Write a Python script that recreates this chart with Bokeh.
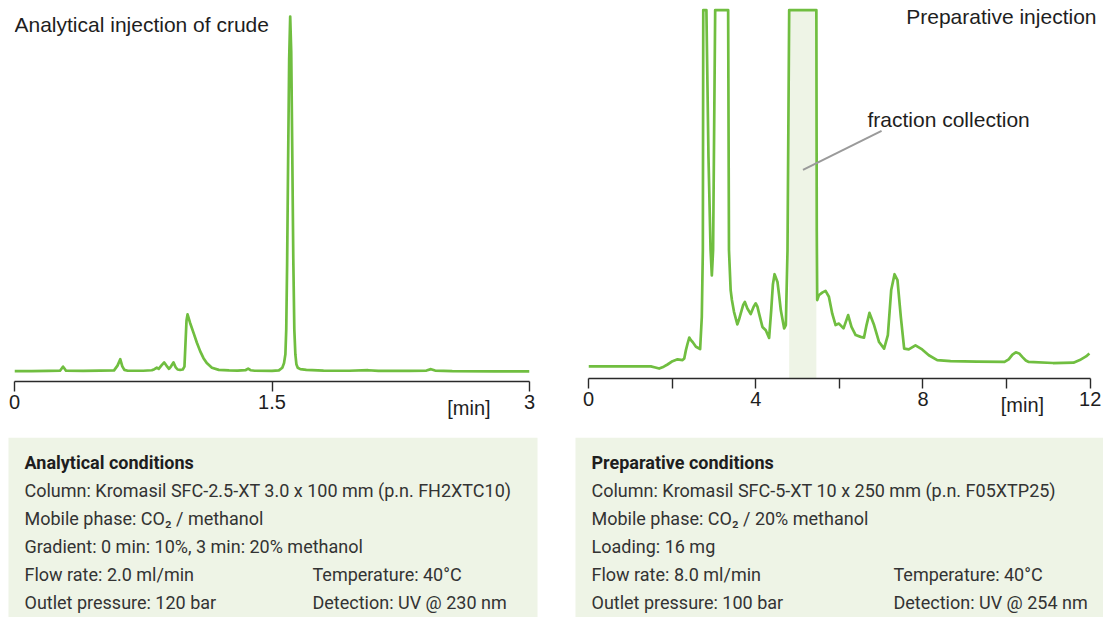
from bokeh.plotting import figure
from bokeh.layouts import row, column
from bokeh.models import Range1d, FixedTicker, Label, LinearAxis
from bokeh.core.properties import value
from bokeh.embed import file_html
from bokeh.resources import INLINE

# ---------------- data ----------------
L_TITLE = "Analytical injection of crude"
R_TITLE = "Preparative injection"
X_UNIT = "[min]"

L_TICKS = [0, 1.5, 3]
R_TICKS = [0, 2, 4, 6, 8, 10, 12]
R_TICK_LABELS = {0: "0", 2: "", 4: "4", 6: "", 8: "8", 10: "", 12: "12"}
L_UNIT_AT = 2.647
R_UNIT_AT = 10.38

L_TIME = [0.00, 0.10, 0.20, 0.265, 0.275, 0.283, 0.292, 0.30, 0.40, 0.50,
          0.58, 0.600, 0.616, 0.628, 0.64, 0.66, 0.75, 0.80, 0.815, 0.829,
          0.840, 0.855, 0.872, 0.885, 0.900, 0.912, 0.926, 0.938, 0.950, 0.965,
          0.980, 0.990, 0.996, 1.002, 1.008, 1.023, 1.043, 1.062, 1.082, 1.101,
          1.120, 1.150, 1.190, 1.25, 1.30, 1.345, 1.361, 1.375, 1.40, 1.50,
          1.54, 1.560, 1.570, 1.578, 1.583, 1.588, 1.594, 1.600, 1.606, 1.612,
          1.618, 1.624, 1.630, 1.636, 1.642, 1.650, 1.665, 1.70, 1.80, 1.95,
          2.06, 2.12, 2.30, 2.40, 2.426, 2.45, 2.55, 2.80, 3.00]
L_SIGNAL = [0.25, 0.25, 0.3, 0.35, 1.0, 1.5, 0.9, 0.35, 0.3, 0.4,
            0.45, 1.8, 3.6, 1.6, 0.6, 0.35, 0.35, 0.5, 0.8, 1.2,
            0.9, 1.8, 2.7, 1.8, 0.9, 1.6, 2.7, 1.4, 0.7, 0.6,
            0.7, 1.5, 8.0, 14.5, 16.2, 13.8, 11.0, 8.3, 5.8, 3.9,
            2.5, 1.2, 0.6, 0.45, 0.4, 0.5, 0.95, 0.5, 0.35, 0.3,
            0.45, 1.2, 2.5, 5.0, 12.0, 30.0, 60.0, 88.0, 100.0, 90.0,
            62.0, 32.0, 12.0, 5.0, 2.2, 1.2, 0.8, 0.6, 0.4, 0.35,
            0.5, 0.3, 0.3, 0.4, 0.8, 0.4, 0.25, 0.2, 0.2]

R_TIME = [0.00, 1.49, 1.60, 1.69, 1.80, 1.89, 2.01, 2.13, 2.25, 2.29,
          2.33, 2.37, 2.41, 2.45, 2.49, 2.57, 2.67, 2.71, 2.735, 2.745,
          2.82, 2.87, 2.92, 2.95, 2.98, 3.03, 3.34, 3.36, 3.40, 3.43,
          3.48, 3.56, 3.60, 3.64, 3.70, 3.74, 3.80, 3.88, 3.95, 4.00,
          4.04, 4.08, 4.16, 4.24, 4.32, 4.37, 4.41, 4.45, 4.52, 4.56,
          4.60, 4.68, 4.72, 4.76, 4.80, 5.45, 5.46, 5.47, 5.51, 5.59,
          5.67, 5.75, 5.83, 5.91, 5.99, 6.10, 6.21, 6.29, 6.39, 6.51,
          6.59, 6.65, 6.72, 6.83, 6.95, 7.07, 7.16, 7.24, 7.32, 7.39,
          7.47, 7.55, 7.66, 7.82, 7.98, 8.14, 8.34, 8.66, 9.29, 9.95,
          10.05, 10.14, 10.22, 10.30, 10.38, 10.46, 10.53, 11.11, 11.60, 11.75,
          11.90, 11.98]
R_SIGNAL = [3.3, 3.3, 3.0, 2.7, 3.2, 3.8, 4.7, 5.2, 5.0, 5.4,
            7.7, 9.5, 11.1, 10.4, 9.9, 8.6, 8.0, 16.7, 34.8, 100.0,
            100.0, 60.0, 34.8, 28.0, 34.8, 100.0, 100.0, 34.8, 24.0, 21.3,
            18.1, 14.7, 16.0, 17.6, 20.0, 20.8, 19.0, 17.5, 19.5, 20.4,
            19.5, 17.6, 14.0, 13.1, 11.0, 18.5, 25.5, 28.3, 26.2, 22.5,
            18.5, 13.6, 14.5, 34.8, 100.0, 100.0, 40.0, 21.3, 22.6, 23.3,
            23.8, 22.2, 17.6, 14.5, 14.9, 13.6, 17.2, 14.0, 11.8, 11.3,
            11.1, 14.5, 17.8, 14.5, 9.9, 8.1, 11.8, 24.0, 28.3, 26.7,
            16.7, 8.1, 7.9, 9.0, 7.9, 6.3, 5.0, 4.7, 4.6, 4.5,
            5.2, 6.5, 7.1, 6.8, 5.8, 4.9, 4.5, 4.2, 4.3, 5.0,
            6.0, 6.8]

FRACTION_START = 4.80
FRACTION_END = 5.45
FRACTION_TOP = 100.0
FRACTION_TEXT = "fraction collection"
POINTER_X = [5.13, 7.01]
POINTER_Y = [56.6, 67.2]

L_BOX_TITLE = "Analytical conditions"
L_BOX_LINES = ["Column: Kromasil SFC-2.5-XT 3.0 x 100 mm (p.n. FH2XTC10)",
               "Mobile phase: CO\u2082 / methanol",
               "Gradient: 0 min: 10%, 3 min: 20% methanol",
               "Flow rate: 2.0 ml/min",
               "Outlet pressure: 120 bar"]
L_BOX_COL2 = ["Temperature: 40°C", "Detection: UV @ 230 nm"]

R_BOX_TITLE = "Preparative conditions"
R_BOX_LINES = ["Column:  Kromasil SFC-5-XT 10 x 250 mm (p.n. F05XTP25)",
               "Mobile phase: CO\u2082 / 20% methanol",
               "Loading: 16 mg",
               "Flow rate: 8.0 ml/min",
               "Outlet pressure: 100 bar"]
R_BOX_COL2 = ["Temperature: 40°C", "Detection: UV @ 254 nm"]

# ---------------- style ----------------
GREEN = "#70be40"
BAND = "#eef4e6"
BOXFILL = "#eef4e6"
INK = "#1e1e1e"
AX = "#2a2a2a"
FONT = "Liberation Sans"
BOXFONT = "Roboto"


def no_align(p):
    if "frame_align" in p.properties():
        p.frame_align = False


def style_axis(p, ticks, bounds, overrides=None):
    ax = p.xaxis[0]
    ax.ticker = FixedTicker(ticks=ticks, minor_ticks=[])
    ax.bounds = bounds
    if overrides:
        ax.major_label_overrides = overrides
    ax.axis_line_color = AX
    ax.axis_line_width = 1.4
    ax.major_tick_line_color = AX
    ax.major_tick_line_width = 1.4
    ax.major_tick_out = 10
    ax.major_tick_in = 0
    ax.minor_tick_out = 0
    ax.minor_tick_in = 0
    ax.major_label_standoff = 3
    ax.major_label_text_font = FONT
    ax.major_label_text_font_size = "20px"
    ax.major_label_text_color = INK


def unit_axis(p, at):
    ax = LinearAxis(ticker=FixedTicker(ticks=[at], minor_ticks=[]),
                    major_label_overrides={at: X_UNIT})
    ax.axis_line_color = None
    ax.major_tick_line_color = None
    ax.minor_tick_line_color = None
    ax.major_tick_out = 0
    ax.major_tick_in = 0
    ax.minor_tick_out = 0
    ax.minor_tick_in = 0
    ax.major_label_standoff = -15
    ax.major_label_text_font = FONT
    ax.major_label_text_font_size = "20px"
    ax.major_label_text_color = INK
    p.add_layout(ax, "below")


def base_fig(width, height, xr, yr, ml, mr, mt, mb):
    p = figure(width=width, height=height, x_range=xr, y_range=yr,
               output_backend="svg", toolbar_location=None,
               y_axis_location=None,
               min_border_left=ml, min_border_right=mr,
               min_border_top=mt, min_border_bottom=mb)
    p.grid.visible = False
    p.outline_line_color = None
    p.background_fill_color = "white"
    p.border_fill_color = "white"
    no_align(p)
    return p


# ---------------- left chart ----------------
left = base_fig(552, 437, Range1d(0, 3), Range1d(-2.672, 104.5), 14, 23, 0, 56)
style_axis(left, L_TICKS, (0, 3))
unit_axis(left, L_UNIT_AT)
left.line(L_TIME, L_SIGNAL, line_color=GREEN, line_width=2.7, line_join="round")
left.add_layout(Label(x=0, y=97.8, text=L_TITLE, text_font=FONT,
                      text_font_size="21px", text_color=INK,
                      text_baseline="alphabetic", text_align="left"))

# ---------------- right chart ----------------
right = base_fig(551, 437, Range1d(0, 12.246), Range1d(0, 102.6), 36, 3, 0, 59)
style_axis(right, R_TICKS, (0, 12), R_TICK_LABELS)
unit_axis(right, R_UNIT_AT)
right.quad(left=[FRACTION_START], right=[FRACTION_END], bottom=[0], top=[FRACTION_TOP],
           fill_color=BAND, line_color=None)
right.line(R_TIME, R_SIGNAL, line_color=GREEN, line_width=2.7, line_join="round")
right.line(POINTER_X, POINTER_Y, line_color="#9a9a9a", line_width=2)
right.add_layout(Label(x=6.673, y=70.2, text=FRACTION_TEXT, text_font=FONT,
                       text_font_size="21px", text_color=INK,
                       text_baseline="alphabetic", text_align="left"))
right.add_layout(Label(x=12.15, y=98.3, text=R_TITLE, text_font=FONT,
                       text_font_size="21px", text_color=INK,
                       text_baseline="alphabetic", text_align="right"))


# ---------------- condition boxes ----------------
def cond_box(width, box_left, box_right, text_x, col2_x, title, lines, col2):
    h = 180
    b = figure(width=width, height=h, x_range=Range1d(0, width), y_range=Range1d(h, 0),
               output_backend="svg", toolbar_location=None,
               x_axis_location=None, y_axis_location=None, min_border=0)
    b.min_border_left = b.min_border_right = b.min_border_top = b.min_border_bottom = 0
    b.grid.visible = False
    b.outline_line_color = None
    no_align(b)
    b.quad(left=[box_left], right=[box_right], top=[0], bottom=[h],
           fill_color=BOXFILL, line_color=None)
    rows = [25, 53, 81, 109, 137, 165]
    b.text(x=[text_x], y=[rows[0]], text=[title], text_font=value(BOXFONT),
           text_font_size="18px", text_font_style="bold", text_color=INK,
           text_baseline="middle")
    b.text(x=[text_x] * len(lines), y=rows[1:1 + len(lines)], text=lines,
           text_font=value(BOXFONT), text_font_size="18px", text_color="#333333",
           text_baseline="middle")
    b.text(x=[col2_x] * len(col2), y=rows[4:4 + len(col2)], text=col2,
           text_font=value(BOXFONT), text_font_size="18px", text_color="#333333",
           text_baseline="middle")
    return b


left_box = cond_box(552, 8, 537, 24, 312, L_BOX_TITLE, L_BOX_LINES, L_BOX_COL2)
right_box = cond_box(551, 23, 551, 39, 341, R_BOX_TITLE, R_BOX_LINES, R_BOX_COL2)

layout = column(row(left, right), row(left_box, right_box))
open("out.html", "w").write(file_html(layout, INLINE, title="chromatograms"))
